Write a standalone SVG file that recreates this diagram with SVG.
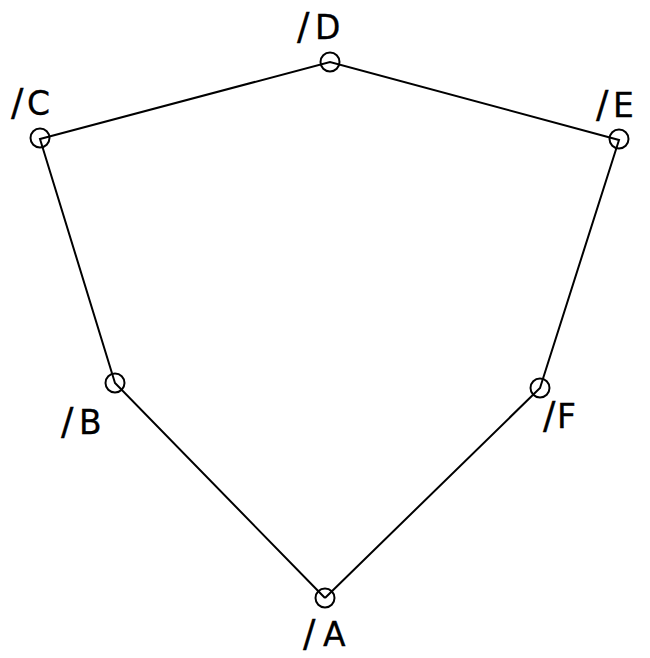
<svg xmlns="http://www.w3.org/2000/svg" width="650" height="658" viewBox="0 0 650 658">
<style>
.n{fill:none;stroke:#000;stroke-width:2}
.e{stroke:#000;stroke-width:2;fill:none}
text{font-family:"DejaVu Sans",sans-serif;font-size:33px;fill:#000;stroke:#000;stroke-width:0.3}
.s{font-size:37px}
</style>
<rect width="650" height="658" fill="#fff"/>
<g id="edges">
<polyline class="e" points="325,598 115,383 40,139 330,62 619,140 540,388 325,598"/>
</g>
<g id="A"><circle class="n" cx="325" cy="598" r="9.5"/><text y="646"><tspan class="s" x="303">/</tspan><tspan x="323">A</tspan></text></g>
<g id="B"><circle class="n" cx="115" cy="383" r="9.5"/><text y="434"><tspan class="s" x="61">/</tspan><tspan x="79">B</tspan></text></g>
<g id="C"><circle class="n" cx="40" cy="138" r="9.5"/><text y="115"><tspan class="s" x="11">/</tspan><tspan x="27">C</tspan></text></g>
<g id="D"><circle class="n" cx="330" cy="62" r="9.5"/><text y="39"><tspan class="s" x="297">/</tspan><tspan x="315">D</tspan></text></g>
<g id="E"><circle class="n" cx="619" cy="139" r="9.5"/><text y="117"><tspan class="s" x="596">/</tspan><tspan x="613">E</tspan></text></g>
<g id="F"><circle class="n" cx="540" cy="388" r="9.5"/><text y="428"><tspan class="s" x="543">/</tspan><tspan x="557">F</tspan></text></g>
</svg>
